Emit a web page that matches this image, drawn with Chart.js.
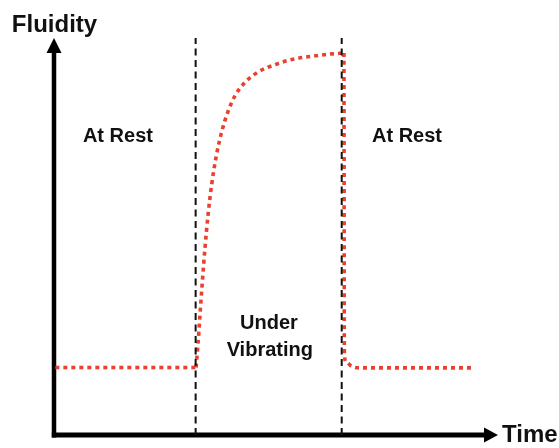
<!DOCTYPE html>
<html>
<head>
<meta charset="utf-8">
<script src="https://cdn.jsdelivr.net/npm/chart.js@4/dist/chart.umd.min.js"></script>
<style>
  html, body { margin: 0; padding: 0; background: #ffffff; }
  #wrap { width: 559px; height: 448px; }
</style>
</head>
<body>
<div id="wrap"><canvas id="c" width="559" height="448"></canvas></div>
<script>
// ---- Data (arbitrary units: time 0-100, fluidity 0-100) ----
const restBeforeTime = [0.3, 32.0];
const restBeforeFluidity = [17.0, 17.0];

const vibrTime = [32.0, 32.4, 32.9, 33.4, 34.0, 34.7, 35.5, 36.5, 37.8, 39.2, 40.8, 43.0, 45.9, 49.8, 53.6, 58.1, 62.6, 65.3];
const vibrFluidity = [17.0, 22.5, 30.5, 38.5, 47.0, 55.5, 63.0, 70.0, 76.5, 81.5, 85.5, 88.8, 91.4, 93.3, 94.6, 95.4, 96.0, 96.2];

const restAfterTime = [65.3, 65.4, 65.8, 66.9, 68.9, 94.4];
const restAfterFluidity = [96.2, 20.2, 18.4, 17.4, 16.9, 16.9];

const phaseBoundaries = [31.9, 64.8];

const annotationTexts = ["At Rest", "At Rest", "Under", "Vibrating"];
const annotationTime = [14.4, 79.5, 48.4, 48.6];
const annotationFluidity = [75.1, 75.1, 28.0, 21.2];

const yAxisTitle = "Fluidity";
const xAxisTitle = "Time";

// ---- Build datasets ----
const toPts = (xs, ys) => xs.map((x, i) => ({ x: x, y: ys[i] }));
const RED = '#e8412f';
const redStyle = {
  borderColor: RED, borderWidth: 3.6, borderDash: [4, 4], borderCapStyle: 'butt',
  pointRadius: 0, fill: false
};

const datasets = [];
phaseBoundaries.forEach(b => {
  datasets.push({
    data: [{ x: b, y: 0 }, { x: b, y: 100 }],
    borderColor: '#111111', borderWidth: 2, borderDash: [7, 4.5],
    pointRadius: 0, fill: false, tension: 0
  });
});
datasets.push(Object.assign({ data: toPts(restBeforeTime, restBeforeFluidity), tension: 0 }, redStyle));
datasets.push(Object.assign({ data: toPts(vibrTime, vibrFluidity), cubicInterpolationMode: 'monotone' }, redStyle));
datasets.push(Object.assign({ data: toPts(restAfterTime, restAfterFluidity), cubicInterpolationMode: 'monotone' }, redStyle));

// ---- Plugin: axes with arrows, titles and annotations ----
const decor = {
  id: 'decor',
  beforeDatasetsDraw(chart) {
    const ctx = chart.ctx;
    const xs = chart.scales.x, ys = chart.scales.y;
    const x0 = xs.getPixelForValue(0), x1 = xs.getPixelForValue(100);
    const y0 = ys.getPixelForValue(0), y1 = ys.getPixelForValue(100);
    ctx.save();
    ctx.fillStyle = '#000';
    ctx.strokeStyle = '#000';
    ctx.lineCap = 'butt';
    // y axis
    ctx.lineWidth = 4.5;
    ctx.beginPath();
    ctx.moveTo(x0, y0 + 2.5);
    ctx.lineTo(x0, y1 + 12);
    ctx.stroke();
    ctx.beginPath();
    ctx.moveTo(x0, y1);
    ctx.lineTo(x0 - 7.5, y1 + 15);
    ctx.lineTo(x0 + 7.5, y1 + 15);
    ctx.closePath();
    ctx.fill();
    // x axis
    ctx.lineWidth = 5;
    ctx.beginPath();
    ctx.moveTo(x0 - 2.2, y0);
    ctx.lineTo(x1 - 12, y0);
    ctx.stroke();
    ctx.beginPath();
    ctx.moveTo(x1, y0);
    ctx.lineTo(x1 - 14, y0 - 7.5);
    ctx.lineTo(x1 - 14, y0 + 7.5);
    ctx.closePath();
    ctx.fill();
    ctx.restore();
  },
  afterDatasetsDraw(chart) {
    const ctx = chart.ctx;
    const xs = chart.scales.x, ys = chart.scales.y;
    const x0 = xs.getPixelForValue(0), x1 = xs.getPixelForValue(100);
    const y0 = ys.getPixelForValue(0), y1 = ys.getPixelForValue(100);
    ctx.save();
    ctx.fillStyle = '#111';
    ctx.font = 'bold 24px "Liberation Sans", Arial, sans-serif';
    ctx.textAlign = 'center';
    ctx.textBaseline = 'alphabetic';
    ctx.fillText(yAxisTitle, x0 + 0.5, y1 - 6);
    ctx.textAlign = 'left';
    ctx.textBaseline = 'middle';
    ctx.fillText(xAxisTitle, x1 + 4, y0);
    ctx.font = 'bold 20px "Liberation Sans", Arial, sans-serif';
    ctx.textAlign = 'center';
    ctx.textBaseline = 'middle';
    annotationTexts.forEach((t, i) => {
      ctx.fillText(t, xs.getPixelForValue(annotationTime[i]), ys.getPixelForValue(annotationFluidity[i]));
    });
    ctx.restore();
  }
};

new Chart(document.getElementById('c'), {
  type: 'line',
  data: { datasets: datasets },
  options: {
    responsive: false,
    animation: false,
    devicePixelRatio: 1,
    layout: { padding: { left: 54, right: 61, top: 38, bottom: 13 } },
    plugins: { legend: { display: false }, tooltip: { enabled: false } },
    scales: {
      x: { type: 'linear', min: 0, max: 100, display: false },
      y: { type: 'linear', min: 0, max: 100, display: false }
    }
  },
  plugins: [decor]
});
</script>
</body>
</html>
